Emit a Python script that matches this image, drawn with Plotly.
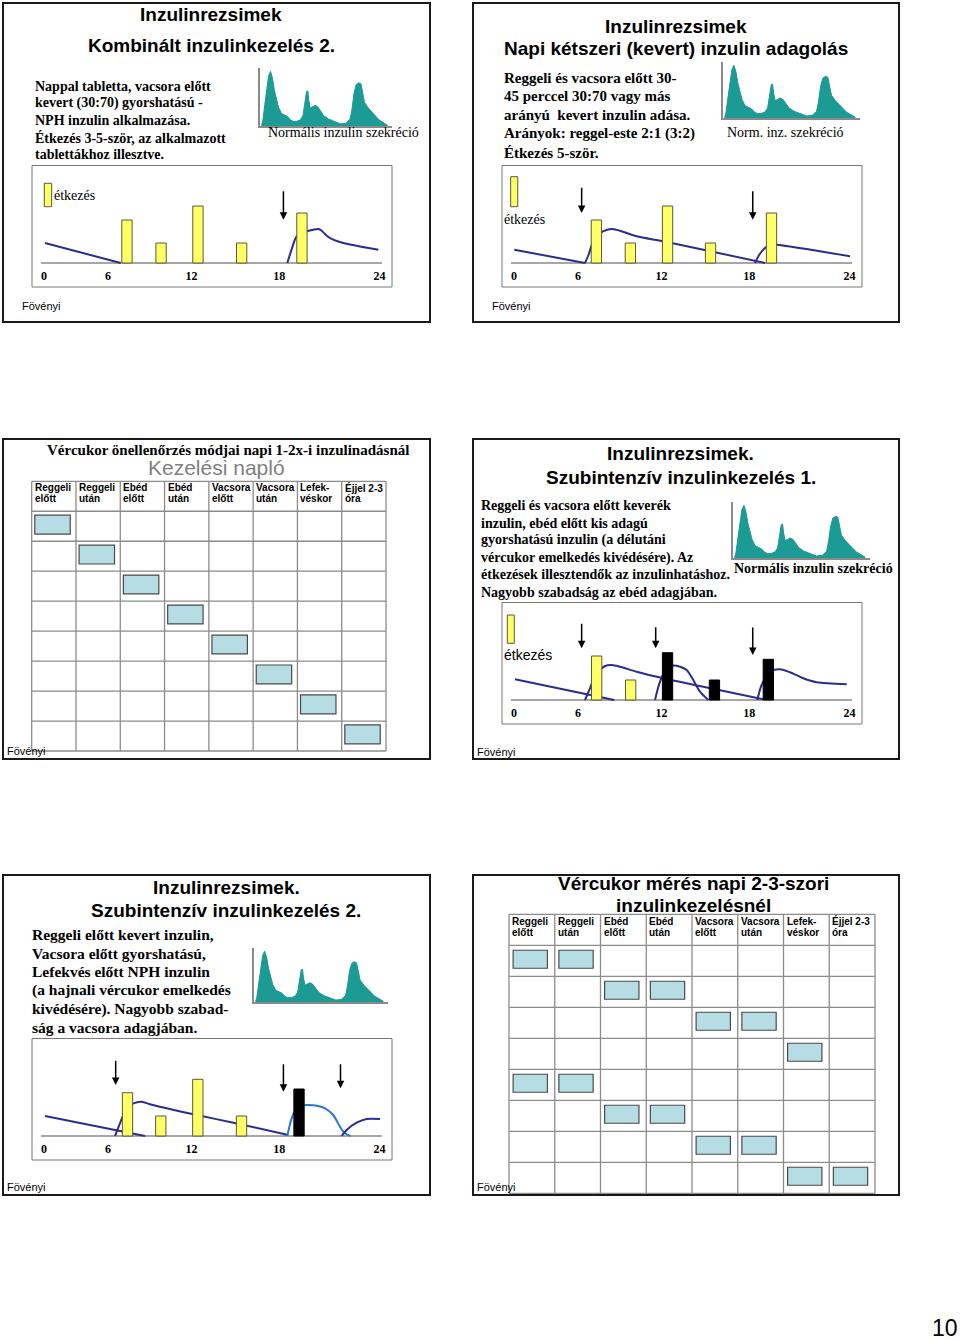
import plotly.graph_objects as go

W, H = 960, 1340

# ---------------------------------------------------------------- data
tick_labels = ['0', '6', '12', '18', '24']
tick_hours = [0.0, 4.6, 10.6, 16.9, 24.1]          # where the slides print the hour labels

table_head_1 = ['Reggeli', 'Reggeli', 'Ebéd', 'Ebéd', 'Vacsora', 'Vacsora', 'Lefek-', 'Éjjel 2-3']
table_head_2 = ['előtt', 'után', 'előtt', 'után', 'előtt', 'után', 'véskor', 'óra']

# normal insulin secretion profile (hour of day, relative level)
secretion_h = [0.12, 0.36, 0.72, 1.08, 1.44, 1.8, 2.16, 2.52, 2.88, 3.3, 3.84, 4.44, 5.04, 5.52, 6.12,
               6.84, 7.44, 7.92, 8.28, 8.58, 8.82, 9.0, 9.3, 9.72, 10.2, 10.68, 11.22, 11.82, 12.72,
               13.92, 15.0, 16.02, 16.8, 17.16, 17.52, 17.94, 18.42, 18.84, 19.14, 19.5, 20.22, 21.12,
               22.2, 23.22, 23.82]
secretion_v = [0.7, 5, 20, 36.7, 48.3, 52.7, 46.7, 35, 26.7, 18.3, 12.3, 10.7, 9, 6, 4.3,
               4.7, 6, 10, 21.7, 33.3, 34, 25, 17.3, 18.3, 20, 18.7, 14, 10, 6.7,
               4.3, 2, 2.7, 6.7, 16.7, 31.7, 40, 41.7, 40.7, 33.3, 22.7, 17.3, 11.7,
               6, 2.7, 0.7]

# slide 1 - Kombinált inzulinkezelés 2.
s1_meal_h = [5.96, 8.41, 11.06, 14.2, 18.53]
s1_meal_v = [43, 20, 57, 20, 50]
s1_night_h = [0.07, 5.51]
s1_night_v = [20, 0]
s1_even_h = [17.48, 17.86, 18.15, 18.75, 19.35, 19.71, 19.95, 20.31, 20.78, 21.5, 24.02]
s1_even_v = [0, 16.7, 26.7, 31, 33.3, 34, 32.3, 27.3, 23.3, 20, 13.3]
s1_arrow_h = [17.2]
s1_arrow_from = [73.3]
s1_arrow_to = [43.3]

# slide 2 - Napi kétszeri (kevert) inzulin adagolás
s2_meal_h = [5.92, 8.36, 11.03, 14.12, 18.5]
s2_meal_v = [43, 20, 57, 20, 50]
s2_night_h = [0.02, 5.1]
s2_night_v = [13.3, 0]
s2_morn_h = [5.1, 5.35, 5.7, 6.2, 6.7, 7.1, 7.6, 8.8, 10.73, 13.6, 18.03]
s2_morn_v = [0, 8, 22, 30, 33.3, 34, 32.3, 26.7, 21.7, 13.3, 0]
s2_even_h = [17.31, 17.62, 18.03, 18.39, 18.87, 24.14]
s2_even_v = [0, 8.3, 15, 18.3, 18.3, 6.7]
s2_arrow_h = [4.86, 17.15]
s2_arrow_from = [76.7, 73.3]
s2_arrow_to = [50, 43.3]

# slide 4 - Szubintenzív inzulinkezelés 1.
s4_meal_h = [5.94, 8.38]
s4_meal_v = [44, 20]
s4_inj_h = [11.03, 14.4, 18.27]
s4_inj_v = [47.3, 20, 40.7]
s4_night_h = [0.07, 7.2]
s4_night_v = [20.7, 0]
s4_morn_h = [5.1, 5.46, 5.94, 6.54, 7.02, 7.61, 8.81, 10.73, 13.6, 17.9]
s4_morn_v = [0, 11.7, 26.7, 34, 35, 33.3, 28.3, 21.7, 13.3, 0.7]
s4_lunch_h = [10.13, 10.49, 10.97, 11.33, 11.93, 12.4, 12.88, 13.36, 13.96]
s4_lunch_v = [0, 18.3, 31.7, 34.3, 33.3, 30, 20, 8.3, 0]
s4_even_h = [17.48, 17.79, 18.39, 19.11, 19.83, 20.78, 21.74, 23.9]
s4_even_v = [0, 15, 28.3, 30.7, 27.7, 21.7, 17.7, 15.7]
s4_arrow_h = [4.86, 10.18, 17.15]
s4_arrow_from = [77.7, 74.3, 74]
s4_arrow_to = [51.7, 51.7, 45]

# slide 5 - Szubintenzív inzulinkezelés 2.
s5_meal_h = [6.0, 8.39, 11.05, 14.19]
s5_meal_v = [43.3, 20, 56.7, 20]
s5_inj_h = [18.32]
s5_inj_v = [47]
s5_night_h = [0.07, 7.26]
s5_night_v = [20, 0]
s5_morn_h = [5.1, 5.46, 5.94, 6.42, 7.02, 7.61, 8.81, 10.73, 13.6, 17.55]
s5_morn_v = [0, 12.7, 27.7, 32.7, 34.3, 31.7, 27.7, 21.7, 13.3, 1]
s5_rapid_h = [17.48, 17.79, 18.15, 18.63, 19.35, 20.19, 20.78, 21.26, 21.62, 22.03]
s5_rapid_v = [0, 17.7, 27.7, 30.7, 30.7, 27.7, 21, 9.3, 2.7, 0]
s5_nph_h = [21.38, 21.74, 22.46, 23.18, 24.14]
s5_nph_v = [0, 6, 13.3, 17, 17]
s5_arrow_h = [5.15, 17.2, 21.3]
s5_arrow_from = [76.7, 73.3, 73.3]
s5_arrow_to = [51, 44.3, 47.7]

# measurement tables (row, column of the marked cells)
t3_rows = [0, 1, 2, 3, 4, 5, 6, 7]
t3_cols = [0, 1, 2, 3, 4, 5, 6, 7]
t6_rows = [0, 0, 1, 1, 2, 2, 3, 4, 4, 5, 5, 6, 6, 7, 7]
t6_cols = [0, 1, 2, 3, 4, 5, 6, 0, 1, 2, 3, 4, 5, 6, 7]

# ---------------------------------------------------------------- styles
SANS = 'Liberation Sans, Arial, sans-serif'
SERIF = 'Liberation Serif, Times New Roman, serif'
NAVY = '#2c2c8e'
LIGHTBLUE = '#2a78d4'
YELLOW = '#ffff66'
TEAL = '#1c9a94'
BOXBLUE = '#b7dde4'

fig = go.Figure()
axes = {}
shapes = []
ann = []
n_ax = [0]


def X(x):
    return x / W


def Y(y):
    return 1 - y / H


BASE = dict(showgrid=False, zeroline=False, showticklabels=False, ticks='', showline=False,
            fixedrange=True)


def add_axes(x0, y0, x1, y1, xr, yr, overlay=None):
    n_ax[0] += 1
    n = n_ax[0]
    sx = '' if n == 1 else str(n)
    xa = dict(BASE, domain=[X(x0), X(x1)], range=xr, anchor='y' + sx)
    ya = dict(BASE, domain=[Y(y1), Y(y0)], range=yr, anchor='x' + sx)
    if overlay:
        xa['overlaying'] = overlay[0]
        ya['overlaying'] = overlay[1]
    axes['xaxis' + sx] = xa
    axes['yaxis' + sx] = ya
    return 'x' + sx, 'y' + sx


def text(x, y, s, size, family=SANS, bold=False, xanchor='left', color='black'):
    ann.append(dict(x=X(x), y=Y(y), xref='paper', yref='paper', text=('<b>%s</b>' % s) if bold else s,
                    showarrow=False, xanchor=xanchor, yanchor='middle', borderpad=0, borderwidth=0,
                    font=dict(family=family, size=size, color=color)))


def slide_border(x0, y0, x1, y1):
    shapes.append(dict(type='rect', xref='paper', yref='paper', x0=X(x0), x1=X(x1), y0=Y(y1), y1=Y(y0),
                       line=dict(color='#1a1a1a', width=2), fillcolor='rgba(0,0,0,0)', layer='above'))


PX_PER_H = 13.92


def timeline(ox, base, meals_h, meals_v, inj_h, inj_v, curves, ar_h, ar_from, ar_to, legend=None):
    x0, x1 = ox - 12, ox + 348
    y0, y1 = base - 97.5, base + 24
    xr = [(x0 - ox) / PX_PER_H, (x1 - ox) / PX_PER_H]
    yr = [base - y1, base - y0]
    xa, ya = add_axes(x0, y0, x1, y1, xr, yr)
    key = 'xaxis' + xa[1:]
    axes[key].update(anchor='free', position=Y(base), showticklabels=True, tickvals=tick_hours,
                     ticktext=['<b>%s</b>' % t for t in tick_labels], ticklabelstandoff=4,
                     tickfont=dict(family=SERIF, size=12, color='black'))
    shapes.append(dict(type='rect', xref='paper', yref='paper', x0=X(x0), x1=X(x1), y0=Y(y1), y1=Y(y0),
                       line=dict(color='#777777', width=1), fillcolor='rgba(0,0,0,0)'))
    shapes.append(dict(type='line', xref=xa, yref=ya, x0=-0.22, x1=24.28, y0=0, y1=0,
                       line=dict(color='#8a8a8a', width=1.5), layer='below'))
    for ch, cv, col in curves:
        fig.add_trace(go.Scatter(x=ch, y=cv, mode='lines', line=dict(color=col, width=2, shape='spline',
                                 smoothing=0.8), xaxis=xa, yaxis=ya, hoverinfo='skip', showlegend=False))
    xo, yo = add_axes(x0, y0, x1, y1, xr, yr, overlay=(xa, ya))
    fig.add_trace(go.Bar(x=meals_h, y=meals_v, width=0.74, marker=dict(color=YELLOW,
                         line=dict(color='#5a5a3a', width=1)), xaxis=xo, yaxis=yo, hoverinfo='skip',
                         showlegend=False))
    if inj_h:
        fig.add_trace(go.Bar(x=inj_h, y=inj_v, width=0.74, marker=dict(color='black',
                             line=dict(color='black', width=1)), xaxis=xo, yaxis=yo, hoverinfo='skip',
                             showlegend=False))
    for h, a, b in zip(ar_h, ar_from, ar_to):
        ann.append(dict(x=h, y=b, ax=h, ay=a, xref=xa, yref=ya, axref=xa, ayref=ya, text='',
                        showarrow=True, arrowhead=2, arrowsize=1, arrowwidth=1.5, arrowcolor='black'))
    if legend:
        (lx0, lx1, ly0, ly1), (tx, ty), fam = legend
        shapes.append(dict(type='rect', xref=xa, yref=ya, x0=lx0, x1=lx1, y0=ly0, y1=ly1,
                           fillcolor=YELLOW, line=dict(color='#5a5a3a', width=1)))
        ann.append(dict(x=tx, y=ty, xref=xa, yref=ya, text='étkezés', showarrow=False, xanchor='left',
                        yanchor='middle', borderpad=0, borderwidth=0,
                        font=dict(family=fam, size=14, color='black')))


def inset(x0, y0, x1, y1):
    xa, ya = add_axes(x0, y0, x1, y1, [-0.17, 24.67], [0, 56])
    for k in ('xaxis' + xa[1:], 'yaxis' + ya[1:]):
        axes[k].update(showline=True, linecolor='#8a8a8a', linewidth=1.5)
    fig.add_trace(go.Scatter(x=secretion_h, y=secretion_v, mode='lines', fill='tozeroy', fillcolor=TEAL,
                             line=dict(color=TEAL, width=1), xaxis=xa, yaxis=ya, hoverinfo='skip',
                             showlegend=False))


def table(x0, y0, x1, y1, rows, cols, bx, by):
    cw = (x1 - x0) / 8
    rh = (y1 - y0) / 9
    pad = 2
    xa, ya = add_axes(x0 - pad, y0 - pad, x1 + pad, y1 + pad, [-pad / cw, 8 + pad / cw],
                      [9 + pad / rh, -pad / rh])
    grid = dict(color='#8c8c8c', width=1.3)
    for i in range(9):
        shapes.append(dict(type='line', xref=xa, yref=ya, x0=i, x1=i, y0=0, y1=9, line=grid))
    for j in range(10):
        shapes.append(dict(type='line', xref=xa, yref=ya, x0=0, x1=8, y0=j, y1=j, line=grid))
    for c in range(8):
        for frac, lab in ((0.22, table_head_1[c]), (0.58, table_head_2[c])):
            ann.append(dict(x=c + 3 / cw, y=frac, xref=xa, yref=ya, text='<b>%s</b>' % lab,
                            showarrow=False, xanchor='left', yanchor='middle', borderpad=0, borderwidth=0,
                            font=dict(family=SANS, size=10, color='black')))
    for r, c in zip(rows, cols):
        shapes.append(dict(type='rect', xref=xa, yref=ya, x0=c + bx[0], x1=c + bx[1],
                           y0=r + 1 + by[0], y1=r + 1 + by[1], fillcolor=BOXBLUE,
                           line=dict(color='#4a4a4a', width=1.2)))


# ---------------------------------------------------------------- slide 1
slide_border(3, 3, 430, 322)
text(211, 15, 'Inzulinrezsimek', 19, SANS, True, 'center')
text(211, 45, 'Kombinált inzulinkezelés 2.', 19, SANS, True, 'center')
for i, line in enumerate(['Nappal tabletta, vacsora előtt', 'kevert (30:70) gyorshatású -',
                          'NPH inzulin alkalmazása.', 'Étkezés 3-5-ször, az alkalmazott',
                          'tablettákhoz illesztve.']):
    text(35, 86.5 + 17 * i, line, 14, SERIF, True)
inset(260, 68, 392, 126)
text(343, 132, 'Normális inzulin szekréció', 14, SERIF, False, 'center')
timeline(44, 263, s1_meal_h, s1_meal_v, [], [],
         [(s1_night_h, s1_night_v, NAVY), (s1_even_h, s1_even_v, NAVY)],
         s1_arrow_h, s1_arrow_from, s1_arrow_to,
         legend=((0.02, 0.55, 56.3, 79.7), (0.74, 68), SERIF))
text(21.7, 306, 'Fövényi', 11)

# ---------------------------------------------------------------- slide 2
slide_border(473, 3, 899, 322)
text(676, 26, 'Inzulinrezsimek', 19, SANS, True, 'center')
text(676, 48.3, 'Napi kétszeri (kevert) inzulin adagolás', 19, SANS, True, 'center')
for i, line in enumerate(['Reggeli és vacsora előtt 30-', '45 perccel 30:70 vagy más',
                          'arányú  kevert inzulin adása.', 'Arányok: reggel-este 2:1 (3:2)',
                          'Étkezés 5-ször.']):
    text(504, 77.5 + 18.75 * i, line, 15, SERIF, True)
inset(723, 62, 860, 118)
text(785.5, 132.5, 'Norm. inz. szekréció', 14, SERIF, False, 'center')
timeline(514, 263, s2_meal_h, s2_meal_v, [], [],
         [(s2_night_h, s2_night_v, NAVY), (s2_morn_h, s2_morn_v, NAVY), (s2_even_h, s2_even_v, NAVY)],
         s2_arrow_h, s2_arrow_from, s2_arrow_to,
         legend=((-0.24, 0.27, 56.3, 86.3), (-0.7, 44), SERIF))
text(491.7, 306, 'Fövényi', 11)

# ---------------------------------------------------------------- slide 3
slide_border(3, 439, 430, 759)
text(228, 449.5, 'Vércukor önellenőrzés módjai napi 1-2x-i inzulinadásnál', 15, SERIF, True, 'center')
text(216.7, 467, 'Kezelési napló', 21, SANS, False, 'center', '#7f7f7f')
table(31.7, 481.3, 386, 751, t3_rows, t3_cols, (0.07, 0.87), (0.13, 0.76))
text(7.3, 751, 'Fövényi', 11)

# ---------------------------------------------------------------- slide 4
slide_border(473, 439, 899, 759)
text(680.5, 453.3, 'Inzulinrezsimek.', 19, SANS, True, 'center')
text(680.5, 477.3, 'Szubintenzív inzulinkezelés 1.', 19, SANS, True, 'center')
for i, line in enumerate(['Reggeli és vacsora előtt keverék', 'inzulin, ebéd előtt kis adagú',
                          'gyorshatású inzulin (a délutáni', 'vércukor emelkedés kivédésére). Az',
                          'étkezések illesztendők az inzulinhatáshoz.',
                          'Nagyobb szabadság az ebéd adagjában.']):
    text(481, 506 + 17.2 * i, line, 14, SERIF, True)
inset(733, 502, 870, 558)
text(813.5, 568.5, 'Normális inzulin szekréció', 14, SERIF, True, 'center')
timeline(514, 700, s4_meal_h, s4_meal_v, s4_inj_h, s4_inj_v,
         [(s4_night_h, s4_night_v, NAVY), (s4_morn_h, s4_morn_v, NAVY), (s4_lunch_h, s4_lunch_v, NAVY),
          (s4_even_h, s4_even_v, NAVY)],
         s4_arrow_h, s4_arrow_from, s4_arrow_to,
         legend=((-0.48, 0.02, 56.7, 85), (-0.7, 45), SANS))
text(477.3, 751.7, 'Fövényi', 11)

# ---------------------------------------------------------------- slide 5
slide_border(3, 875, 430, 1195)
text(226, 887.3, 'Inzulinrezsimek.', 19, SANS, True, 'center')
text(226, 910.7, 'Szubintenzív inzulinkezelés 2.', 19, SANS, True, 'center')
for i, line in enumerate(['Reggeli előtt kevert inzulin,', 'Vacsora előtt gyorshatású,',
                          'Lefekvés előtt NPH inzulin', '(a hajnali vércukor emelkedés',
                          'kivédésére). Nagyobb szabad-', 'ság a vacsora adagjában.']):
    text(31.7, 934.5 + 18.66 * i, line, 15.5, SERIF, True)
inset(254, 948, 388, 1002)
timeline(44, 1136, s5_meal_h, s5_meal_v, s5_inj_h, s5_inj_v,
         [(s5_night_h, s5_night_v, NAVY), (s5_morn_h, s5_morn_v, NAVY), (s5_rapid_h, s5_rapid_v, LIGHTBLUE),
          (s5_nph_h, s5_nph_v, NAVY)],
         s5_arrow_h, s5_arrow_from, s5_arrow_to)
text(7.3, 1187.3, 'Fövényi', 11)

# ---------------------------------------------------------------- slide 6
text(693, 883.3, 'Vércukor mérés napi 2-3-szori', 19, SANS, True, 'center')
text(693, 905, 'inzulinkezelésnél', 19, SANS, True, 'center')
table(509, 914.3, 875, 1193.3, t6_rows, t6_cols, (0.09, 0.84), (0.16, 0.74))
text(477.3, 1186.7, 'Fövényi', 11)
slide_border(473, 875, 899, 1195)

# page number
text(945, 1328, '10', 23, SANS, False, 'center')

fig.update_layout(width=W, height=H, autosize=False, margin=dict(l=0, r=0, t=0, b=0, pad=0),
                  paper_bgcolor='white', plot_bgcolor='rgba(0,0,0,0)', showlegend=False,
                  barmode='overlay', shapes=shapes, annotations=ann, **axes)

fig.write_html("out.html", config={'displayModeBar': False},
               post_script="document.body.style.margin='0px';")
